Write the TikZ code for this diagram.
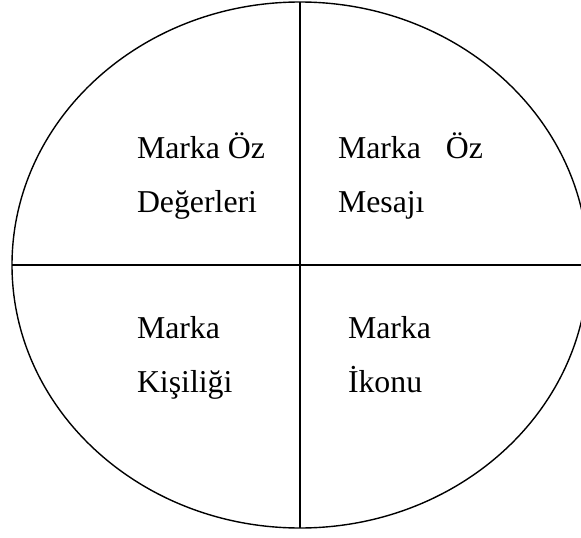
\documentclass[tikz,border=0pt]{standalone}
\usepackage{fontspec}
\setmainfont{Liberation Serif}
\usetikzlibrary{shapes.geometric}
\begin{document}
\begin{tikzpicture}[x=1pt,y=-1pt,
  rim/.style={line width=1.4pt,draw=black},
  label/.style={anchor=base west,inner sep=0pt,outer sep=0pt,font=\fontsize{31.8}{38}\selectfont}]
\useasboundingbox (0,0) rectangle (581,538);
\clip (0,0) rectangle (581,538);
\node[ellipse,rim,minimum width=576pt,minimum height=526pt,inner sep=0pt,outer sep=0pt] (oval) at (300,265) {};
\draw[rim] (oval.north) -- (oval.south);
\draw[rim] (oval.west) -- (oval.east);
\node[label] (a1) at (137,158) {Marka Öz};
\node[label] (a2) at (137,212) {Değerleri};
\node[label] (b1) at (338,158) {Marka\hspace{25pt}Öz};
\node[label] (b2) at (338,212) {Mesajı};
\node[label] (c1) at (137,338) {Marka};
\node[label] (c2) at (137,392) {Kişiliği};
\node[label] (d1) at (348,338) {Marka};
\node[label] (d2) at (348,392) {İkonu};
\end{tikzpicture}
\end{document}
